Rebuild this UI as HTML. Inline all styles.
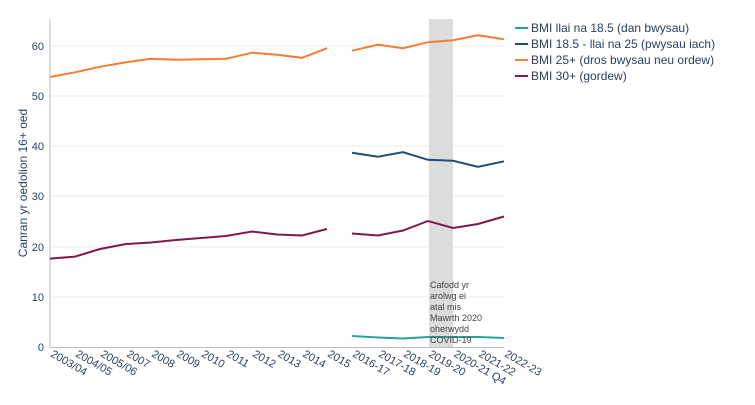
<!DOCTYPE html><html><head><style>body{margin:0;background:#fff}svg{font-family:"Liberation Sans",sans-serif}</style></head><body>
<svg width="755" height="400" xmlns="http://www.w3.org/2000/svg">
<g stroke="#eee" stroke-width="1">
<line x1="50" x2="504" y1="297" y2="297"/><line x1="50" x2="504" y1="247" y2="247"/><line x1="50" x2="504" y1="196" y2="196"/><line x1="50" x2="504" y1="146" y2="146"/><line x1="50" x2="504" y1="96" y2="96"/><line x1="50" x2="504" y1="46" y2="46"/>
</g>
<rect x="429" y="19" width="24" height="328" fill="#dcdcdc"/>
<line x1="50" x2="504" y1="347.5" y2="347.5" stroke="#bbb"/>
<line x1="50" x2="50" y1="19" y2="347" stroke="#bbb"/>
<g fill="#2a3f5f" font-size="11" text-anchor="end">
<text x="44" y="351">0</text><text x="44" y="301">10</text><text x="44" y="251">20</text><text x="44" y="200">30</text><text x="44" y="150">40</text><text x="44" y="100">50</text><text x="44" y="50">60</text>
</g>
<text transform="translate(27,183) rotate(-90)" fill="#2a3f5f" font-size="12" text-anchor="middle">Canran yr oedolion 16+ oed</text>
<g fill="#2a3f5f" font-size="11">
<text transform="translate(50,356) rotate(30)">2003/04</text>
<text transform="translate(75,356) rotate(30)">2004/05</text>
<text transform="translate(100,356) rotate(30)">2005/06</text>
<text transform="translate(126,356) rotate(30)">2007</text>
<text transform="translate(151,356) rotate(30)">2008</text>
<text transform="translate(176,356) rotate(30)">2009</text>
<text transform="translate(201,356) rotate(30)">2010</text>
<text transform="translate(226,356) rotate(30)">2011</text>
<text transform="translate(252,356) rotate(30)">2012</text>
<text transform="translate(277,356) rotate(30)">2013</text>
<text transform="translate(302,356) rotate(30)">2014</text>
<text transform="translate(327,356) rotate(30)">2015</text>
<text transform="translate(352,356) rotate(30)">2016-17</text>
<text transform="translate(378,356) rotate(30)">2017-18</text>
<text transform="translate(403,356) rotate(30)">2018-19</text>
<text transform="translate(428,356) rotate(30)">2019-20</text>
<text transform="translate(453,356) rotate(30)">2020-21 Q4</text>
<text transform="translate(478,356) rotate(30)">2021-22</text>
<text transform="translate(504,356) rotate(30)">2022-23</text>
</g>
<g fill="none" stroke-width="2">
<polyline stroke="#fb7a34" points="50,77 75,72.3 100,66.8 126,62.3 151,58.8 176,59.8 201,59.3 226,58.8 252,52.7 277,54.7 302,57.8 327,48.2"/>
<polyline stroke="#fb7a34" points="352,50.7 378,44.7 403,48.2 428,42.2 453,40.2 478,35.2 504,39.2"/>
<polyline stroke="#7d1a4b" points="50,258.6 75,256.6 100,249 126,244 151,242.5 176,240 201,238 226,236 252,231.5 277,234.5 302,235.5 327,229"/>
<polyline stroke="#7d1a4b" points="352,233.5 378,235.5 403,230.5 428,221 453,228 478,224 504,216.5"/>
<polyline stroke="#1f4e79" points="352,152.7 378,156.7 403,152.2 428,159.8 453,160.8 478,166.8 504,161.3"/>
<polyline stroke="#26a69a" points="352,336 378,337.5 403,338.5 428,337 453,337 478,337 504,338"/>
</g>
<g fill="#444" font-size="9">
<text x="430" y="288">Cafodd yr</text><text x="430" y="299">arolwg ei</text><text x="430" y="310">atal mis</text><text x="430" y="321">Mawrth 2020</text><text x="430" y="332">oherwydd</text><text x="430" y="343">COVID-19</text>
</g>
<g font-size="12" fill="#2a3f5f">
<line x1="515" x2="528" y1="28" y2="28" stroke="#26a69a" stroke-width="2"/><text x="531" y="32">BMI llai na 18.5 (dan bwysau)</text>
<line x1="515" x2="528" y1="44" y2="44" stroke="#1f4e79" stroke-width="2"/><text x="531" y="48">BMI 18.5 - llai na 25 (pwysau iach)</text>
<line x1="515" x2="528" y1="60" y2="60" stroke="#fb7a34" stroke-width="2"/><text x="531" y="64">BMI 25+ (dros bwysau neu ordew)</text>
<line x1="515" x2="528" y1="76" y2="76" stroke="#7d1a4b" stroke-width="2"/><text x="531" y="80">BMI 30+ (gordew)</text>
</g>
</svg></body></html>
